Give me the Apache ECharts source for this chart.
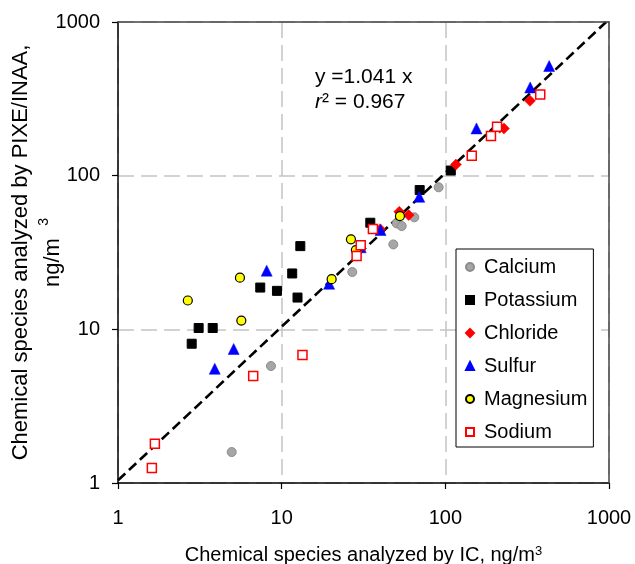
<!DOCTYPE html>
<html>
<head>
<meta charset="utf-8">
<script src="https://cdn.jsdelivr.net/npm/echarts@6/dist/echarts.min.js"></script>
<style>
html,body{margin:0;padding:0;background:#fff;}
#chart{width:635px;height:564px;}
</style>
</head>
<body>
<div id="chart"></div>
<script>
// ---- data (x = IC, y = PIXE/INAA), ng/m3 ----
var calcium = [[4.95,1.59],[8.6,5.77],[27.0,23.6],[48.1,35.7],[50.4,48.9],[54.1,47.0],[64.6,53.6],[91,84]];
var potassium = [[2.82,8.06],[3.11,10.2],[3.79,10.2],[7.4,18.7],[9.36,17.8],[11.6,23.1],[12.5,16.1],[13.0,34.8],[34.8,49.4],[69.7,80.6],[108,108]];
var chloride = [[40,44.8],[52.3,58.2],[59.7,55.4],[116,118],[215,205],[228,203],[329,307]];
var sulfur = [[3.90,5.54],[5.09,7.45],[8.1,24.1],[19.5,19.8],[30.4,34.2],[40.2,44.3],[69.3,72.9],[155,203],[330,375],[431,517]];
var magnesium = [[2.67,15.4],[5.56,21.7],[5.67,11.4],[20.2,21.2],[26.5,38.5],[28.4,32.8],[52.8,54.6]];
var sodium = [[1.61,1.25],[1.68,1.80],[6.7,4.97],[13.4,6.8],[28.7,30.0],[30.4,35.2],[36.1,45.0],[145,135],[190,181],[207,208],[380,338]];
var seriesNames = ['Calcium','Potassium','Chloride','Sulfur','Magnesium','Sodium'];
var fitSlope = 1.041;
var fitR2 = 0.967;
var axisMin = 1, axisMax = 1000;

var FONT = 'Liberation Sans, Arial, sans-serif';
var chart = echarts.init(document.getElementById('chart'), null, {renderer:'canvas'});

var fitLine = [[axisMin, fitSlope*axisMin], [axisMax/fitSlope, axisMax]];

function scatter(name, data, symbol, size, style){
  style.opacity = 1;
  return {
    name: name, type: 'scatter', data: data, symbol: symbol, symbolSize: size,
    itemStyle: style, z: 3, emphasis: {disabled: true}
  };
}

var splitStyle = {show:true, lineStyle:{color:'#c4c4c4', width:1.5, type:[16,7]}};

var option = {
  animation: false,
  backgroundColor: '#fff',
  textStyle: {fontFamily: FONT},
  grid: {left:118, top:22, width:491, height:461, containLabel:false, outerBoundsMode:'none', show:false},
  legend: {
    data: seriesNames,
    orient: 'vertical',
    left: 456, top: 249,
    padding: [8, 6, 5, 9],
    itemGap: 13,
    itemWidth: 8, itemHeight: 8,
    borderColor: '#000', borderWidth: 1,
    backgroundColor: '#fff',
    textStyle: {fontFamily: FONT, fontSize: 20, color: '#000', padding:[0,0,0,5]}
  },
  xAxis: [{
    type: 'log', logBase: 10, min: axisMin, max: axisMax,
    name: 'Chemical species analyzed by IC, ng/m{sup|3}',
    nameLocation: 'middle', nameGap: 62, nameMoveOverlap: false,
    nameTextStyle: {fontFamily: FONT, fontSize: 20, color:'#000', lineHeight: 20,
      rich: {sup: {fontFamily: FONT, fontSize: 13, color:'#000', verticalAlign:'top', lineHeight: 20}}},
    axisLine: {show:true, onZero:false, lineStyle:{color:'#000', width:1.5}},
    axisTick: {show:true, inside:false, length:6, lineStyle:{color:'#000', width:1.2}},
    minorTick: {show:false},
    axisLabel: {fontFamily: FONT, fontSize: 20, color:'#000', margin: 25,
      formatter: function(v){ return String(Math.round(v)); }},
    splitLine: splitStyle
  },{
    type: 'log', logBase: 10, min: axisMin, max: axisMax, position: 'top', z: 5,
    axisLine: {show:true, onZero:false, lineStyle:{color:'#444', width:1.5}},
    axisTick: {show:false}, axisLabel: {show:false}, splitLine: {show:false}
  }],
  yAxis: [{
    type: 'log', logBase: 10, min: axisMin, max: axisMax,
    name: 'Chemical species analyzed by PIXE/INAA,\nng/m  {sup|3}',
    nameLocation: 'middle', nameGap: 49, nameRotate: 90, nameMoveOverlap: false,
    nameTextStyle: {fontFamily: FONT, fontSize: 22, color:'#000', lineHeight: 32, align:'center',
      rich: {sup: {fontFamily: FONT, fontSize: 14, color:'#000', verticalAlign:'top', lineHeight: 32}}},
    axisLine: {show:true, onZero:false, lineStyle:{color:'#000', width:1.5}},
    axisTick: {show:true, inside:false, length:6, lineStyle:{color:'#000', width:1.2}},
    minorTick: {show:false},
    axisLabel: {fontFamily: FONT, fontSize: 20, color:'#000', margin: 18,
      formatter: function(v){ return String(Math.round(v)); }},
    splitLine: splitStyle
  },{
    type: 'log', logBase: 10, min: axisMin, max: axisMax, position: 'right', z: 5,
    axisLine: {show:true, onZero:false, lineStyle:{color:'#444', width:1.5}},
    axisTick: {show:false}, axisLabel: {show:false}, splitLine: {show:false}
  }],
  series: [
    {
      name: 'fit', type: 'line', data: fitLine, symbol: 'none', z: 2, silent: true,
      lineStyle: {color:'#000', width: 2.6, type: [10, 5]}
    },
    scatter('Calcium', calcium, 'circle', 9, {color:'#a6a6a6', borderColor:'#8c8c8c', borderWidth:1}),
    scatter('Potassium', potassium, 'rect', 9, {color:'#000', borderColor:'#000', borderWidth:1}),
    scatter('Chloride', chloride, 'diamond', 11, {color:'#ff0000', borderColor:'#ff0000', borderWidth:0.5}),
    scatter('Sulfur', sulfur, 'triangle', 11, {color:'#0000ff', borderColor:'#0000ff', borderWidth:0.5}),
    scatter('Magnesium', magnesium, 'circle', 9, {color:'#ffff00', borderColor:'#000', borderWidth:1.2}),
    scatter('Sodium', sodium, 'rect', 9, {color:'#fff', borderColor:'#ff0000', borderWidth:1.5})
  ],
  graphic: [
    {type:'text', left: 315, top: 67, z: 10,
      style: {text: 'y =' + fitSlope.toFixed(3) + ' x', font: '21px ' + FONT, fill:'#000'}},
    {type:'text', left: 315, top: 92, z: 10,
      style: {text: '{i|r}² = ' + fitR2.toFixed(3), font: '21px ' + FONT, fill:'#000',
        rich: {i: {fontStyle:'italic', fontFamily: FONT, fontSize: 21, fill:'#000'}}}}
  ]
};
chart.setOption(option);
</script>
</body>
</html>
